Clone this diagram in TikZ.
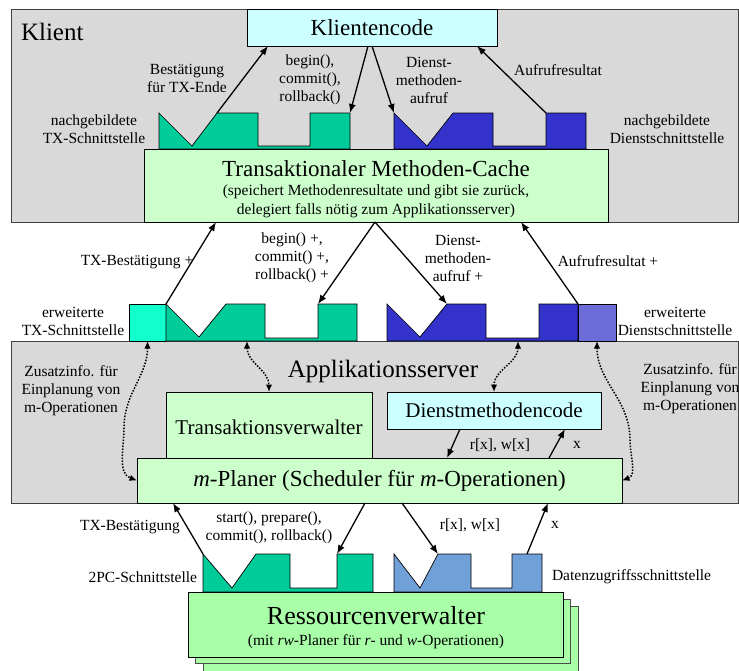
\documentclass[tikz,border=0pt]{standalone}
\usepackage{fontspec}
\setmainfont{Liberation Serif}
\usetikzlibrary{arrows.meta,calc}
\definecolor{panelgray}{HTML}{D9D9D9}
\definecolor{boxgreen}{HTML}{CCFFCC}
\definecolor{boxcyan}{HTML}{CCFFFF}
\definecolor{txgreen}{HTML}{00CC99}
\definecolor{txaqua}{HTML}{11FFCC}
\definecolor{srvblue}{HTML}{3333CC}
\definecolor{srvlight}{HTML}{6D6DD9}
\definecolor{datablue}{HTML}{70A0D8}
\definecolor{rmgreen}{HTML}{A8FFA8}
\begin{document}
\begin{tikzpicture}[x=1pt,y=-1pt,
  every node/.style={inner sep=0pt, outer sep=0pt},
  panel/.style={draw=black!75, line width=0.7pt, fill=panelgray, anchor=north west},
  box/.style={draw=black, line width=0.8pt, anchor=north west},
  iface/.style={draw=black, line width=0.7pt},
  lbl/.style={font=\fontsize{15.5}{18}\selectfont, align=center},
  big/.style={font=\fontsize{25}{28}\selectfont},
  mid/.style={font=\fontsize{23}{26}\selectfont},
  med/.style={font=\fontsize{21}{24}\selectfont},
  arr/.style={line width=1.3pt, -{Latex[length=9pt,width=7pt]}},
  dots/.style={line width=1.5pt, dash pattern=on 1.5pt off 1.5pt,
    {Latex[length=7.5pt,width=6.5pt]}-{Latex[length=7.5pt,width=6.5pt]}},
]
\useasboundingbox (0,0) rectangle (739,670);

% ---------- panels ----------
\node[panel, minimum width=727pt, minimum height=213pt] (klient) at (11,9) {};
\node[panel, minimum width=727pt, minimum height=162pt] (appsrv) at (11,341) {};
\node[big, anchor=west] (klientT) at (21,32) {Klient};
\node[big] (appT) at (383,371) {Applikationsserver};

% ---------- client level ----------
\node[box, fill=boxcyan, minimum width=250pt, minimum height=37pt, mid] (kc) at (247,9) {Klientencode};

% emulated TX interface
\coordinate (tV) at (217,113);
\coordinate (tR) at (350,113);
\draw[iface, fill=txgreen] (159,149) -- (159,113) -- (192,146) -- (tV) -- (258,113) -- (258,146)
  -- (310,146) -- (310,113) -- (tR) -- (350,149) -- cycle;
% emulated service interface
\coordinate (bL) at (394,113);
\coordinate (bT) at (546,113);
\draw[iface, fill=srvblue] (394,149) -- (bL) -- (427,146) -- (453,113) -- (493,113) -- (493,146)
  -- (546,146) -- (bT) -- (586,113) -- (586,149) -- cycle;

\node[box, fill=boxgreen, minimum width=464pt, minimum height=73pt] (cache) at (144,149) {};
\node[mid] (cacheT) at (376,169) {Transaktionaler Methoden-Cache};
\node[lbl, font=\fontsize{15.5}{19}\selectfont] (cacheS) at (376,201)
  {(speichert Methodenresultate und gibt sie zurück,\\delegiert falls nötig zum Applikationsserver)};

\node[lbl] (lBest) at (187,78) {Bestätigung\\für TX-Ende};
\node[lbl] (lBegin) at (310,80) {begin(),\\commit(),\\rollback()};
\node[lbl] (lDienst) at (429,80) {Dienst-\\methoden-\\aufruf};
\node[lbl] (lAufruf) at (558,70) {Aufrufresultat};
\node[lbl] (lNachTX) at (94,129) {nachgebildete\\TX-Schnittstelle};
\node[lbl] (lNachD) at (667,129) {nachgebildete\\Dienstschnittstelle};

\draw[arr] (tV) -- ($(kc.south west)+(21,0)$);
\draw[arr] ($(kc.south west)+(121,0)$) -- (tR);
\draw[arr] ($(kc.south west)+(125,0)$) -- (bL);
\draw[arr] (bT) -- ($(kc.south west)+(230,0)$);

% ---------- extended interfaces ----------
\node[iface, fill=txaqua, minimum width=37pt, minimum height=37pt, anchor=north west] (txsq) at (129,304) {};
\coordinate (eV) at (166,304);
\coordinate (eR) at (318,304);
\coordinate (eB) at (247,341);
\draw[iface, fill=txgreen] (166,341) -- (eV) -- (199,337) -- (226,304) -- (265,304) -- (265,338)
  -- (318,338) -- (eR) -- (357,304) -- (357,341) -- cycle;
\coordinate (fL) at (447,304);
\coordinate (fB) at (518,341);
\draw[iface, fill=srvblue] (387,341) -- (387,304) -- (420,337) -- (fL) -- (486,304) -- (486,338)
  -- (539,338) -- (539,304) -- (578,304) -- (578,341) -- cycle;
\node[iface, fill=srvlight, minimum width=38pt, minimum height=37pt, anchor=north west] (dsq) at (578,304) {};

\node[lbl] (lTXBp) at (137,262) {TX-Bestätigung +};
\node[lbl] (lBeginp) at (292,258) {begin() +,\\commit() +,\\rollback() +};
\node[lbl] (lDienstp) at (458,258) {Dienst-\\methoden-\\aufruf +};
\node[lbl] (lAufrufp) at (608,261) {Aufrufresultat +};
\node[lbl] (lErwTX) at (73,321) {erweiterte\\TX-Schnittstelle};
\node[lbl] (lErwD) at (675,321) {erweiterte\\Dienstschnittstelle};

\draw[arr] (eV) -- ($(cache.south west)+(72,0)$);
\draw[arr] ($(cache.south west)+(231,0)$) -- (eR);
\draw[arr] ($(cache.south west)+(231,0)$) -- (fL);
\draw[arr] (dsq.north west) -- ($(cache.south west)+(377,0)$);

% ---------- application server ----------
\node[box, fill=boxgreen, minimum width=206pt, minimum height=70pt] (tvw) at (166,392) {};
\node[med] (tvwT) at (269,427) {Transaktionsverwalter};
\node[box, fill=boxcyan, minimum width=214pt, minimum height=37pt, med] (dmc) at (387,392) {Dienstmethodencode};
\node[box, fill=boxgreen, minimum width=485pt, minimum height=45pt, mid] (mp) at (137,458)
  {\textit{m}-Planer (Scheduler für \textit{m}-Operationen)};

\node[lbl] (lZusL) at (71,391) {Zusatzinfo. für\\Einplanung von\\m-Operationen};
\node[lbl] (lZusR) at (690,389) {Zusatzinfo. für\\Einplanung von\\m-Operationen};
\node[lbl] (lRW1) at (500,445) {r[x], w[x]};
\node[lbl] (lX1) at (577,445) {x};

\draw[arr] ($(dmc.south west)+(73,0)$) -- ($(mp.north west)+(310,0)$);
\draw[arr] ($(mp.north west)+(412,0)$) -- ($(dmc.south west)+(178,0)$);

\draw[dots] (txsq.south) to[out=-90,in=90] (124,428) to[out=-90,in=160] (mp.west);
\draw[dots] (eB) to[out=-90,in=90] ($(tvw.north west)+(103,0)$);
\draw[dots] (fB) to[out=-90,in=90] (dmc.north);
\draw[dots] (dsq.south) to[out=-90,in=90] (630,440) to[out=-90,in=20] (mp.east);

% ---------- resource manager level ----------
\coordinate (pL) at (203,554);
\coordinate (pR) at (337,554);
\draw[iface, fill=txgreen] (203,592) -- (pL) -- (232,588) -- (256,554) -- (290,554) -- (290,588)
  -- (337,588) -- (pR) -- (373,554) -- (373,592) -- cycle;
\coordinate (dV) at (438,554);
\coordinate (dT) at (527,554);
\draw[iface, fill=datablue] (394,592) -- (394,554) -- (420,588) -- (dV) -- (471,554) -- (471,588)
  -- (512,588) -- (512,554) -- (542,554) -- (542,592) -- cycle;

\node[box, draw=black!70, fill=rmgreen, minimum width=375pt, minimum height=70pt] (rm3) at (203,606) {};
\node[box, draw=black!70, fill=rmgreen, minimum width=375pt, minimum height=64pt] (rm2) at (195,599) {};
\node[box, fill=rmgreen, minimum width=375pt, minimum height=65pt] (rm) at (188,592) {};
\node[font=\fontsize{26}{29}\selectfont] (rmT) at (376,616) {Ressourcenverwalter};
\node[lbl] (rmS) at (376,642) {(mit \textit{rw}-Planer für \textit{r}- und \textit{w}-Operationen)};

\node[lbl] (lTXB2) at (130,527) {TX-Bestätigung};
\node[lbl] (lStart) at (269,528) {start(), prepare(),\\commit(), rollback()};
\node[lbl] (lRW2) at (470,525) {r[x], w[x]};
\node[lbl] (lX2) at (555,525) {x};
\node[lbl, anchor=east] (l2PC) at (197,577) {2PC-Schnittstelle};
\node[lbl, anchor=west] (lDZ) at (552,577) {Datenzugriffsschnittstelle};

\draw[arr] (pL) -- ($(mp.south west)+(36,0)$);
\draw[arr] ($(mp.south west)+(228,0)$) -- (pR);
\draw[arr] ($(mp.south west)+(265,0)$) -- (dV);
\draw[arr] (dT) -- ($(mp.south west)+(411,0)$);
\end{tikzpicture}
\end{document}
